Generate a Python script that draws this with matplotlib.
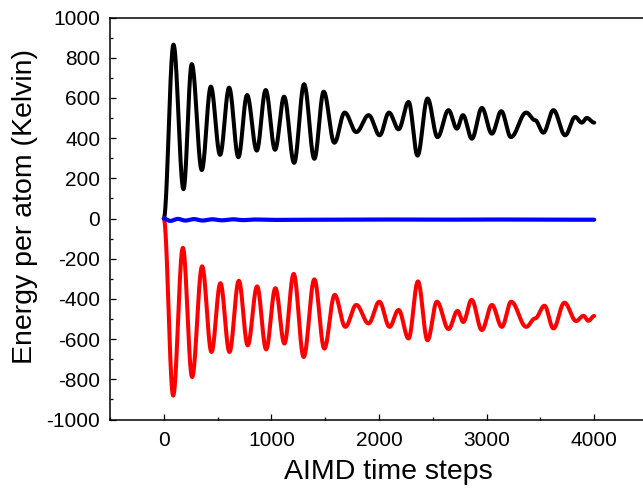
import numpy as np
import matplotlib
matplotlib.use("Agg")
import matplotlib.pyplot as plt
from matplotlib.ticker import MultipleLocator

plt.rcParams['font.family'] = ['Liberation Sans', 'DejaVu Sans']
plt.rcParams['axes.unicode_minus'] = False

# Extrema (time step, energy in K)
black_t = [0, 90, 183, 260, 353, 437, 523, 607, 693, 774, 864, 947, 1034, 1118, 1211, 1304,
           1399, 1486, 1585, 1681, 1789, 1904, 2006, 2093, 2182, 2275, 2358, 2451, 2544, 2646,
           2724, 2780, 2863, 2956, 3049, 3136, 3226, 3368, 3451, 3528, 3621, 3730, 3823, 3885,
           3931, 4000]
black_v = [0, 865, 146, 768, 241, 656, 317, 651, 305, 614, 338, 639, 342, 606, 277, 668,
           297, 631, 377, 527, 430, 514, 414, 527, 444, 580, 313, 597, 405, 539,
           447, 514, 397, 550, 422, 534, 405, 527, 489, 427, 539, 414, 505, 477,
           500, 477]

red_t = [0, 87, 177, 263, 356, 443, 526, 610, 697, 780, 867, 951, 1037, 1121, 1207, 1300,
         1399, 1492, 1588, 1687, 1789, 1903, 2003, 2098, 2182, 2275, 2362, 2451, 2538, 2646,
         2730, 2783, 2861, 2956, 3049, 3142, 3228, 3368, 3451, 3538, 3621, 3723, 3832, 3900,
         3946, 4000]
red_v = [0, -881, -146, -789, -238, -664, -322, -664, -310, -631, -338, -651, -347, -622, -276, -689,
         -303, -647, -380, -539, -430, -522, -414, -539, -455, -597, -313, -606, -414, -550,
         -460, -515, -405, -555, -430, -539, -414, -539, -497, -434, -547, -419, -510, -484,
         -509, -485]

blue_t = [0, 60, 130, 200, 280, 360, 450, 540, 640, 740, 850, 1000, 1500, 2000, 2500, 3000, 3500, 4000]
blue_v = [0, -12, -2, -10, -3, -10, -4, -9, -4, -8, -5, -7, -6, -5, -6, -5, -6, -6]


def smooth(ts, vs, n=40):
    """Draw a smooth path through successive extrema (half-cosine segments)."""
    xs, ys = [], []
    for i in range(len(ts) - 1):
        s = np.linspace(0, 1, n, endpoint=False)
        w = (1 - np.cos(np.pi * s)) / 2
        xs.append(ts[i] + (ts[i + 1] - ts[i]) * s)
        ys.append(vs[i] + (vs[i + 1] - vs[i]) * w)
    xs.append([ts[-1]])
    ys.append([vs[-1]])
    return np.concatenate(xs), np.concatenate(ys)


fig = plt.figure(figsize=(6.43, 4.92), dpi=100)
ax = fig.add_axes([110 / 643, (492 - 419.5) / 492, (648 - 110) / 643, (419.5 - 17.5) / 492])

x, y = smooth(black_t, black_v)
ax.plot(x, y, color='#000000', lw=2.9, solid_capstyle='round')
x, y = smooth(red_t, red_v)
ax.plot(x, y, color='#FF0000', lw=2.9, solid_capstyle='round')
x, y = smooth(blue_t, blue_v)
ax.plot(x, y, color='#0000FF', lw=3.0, solid_capstyle='round')

ax.set_xlim(-500, 4500)
ax.set_ylim(-1000, 1000)
ax.xaxis.set_major_locator(MultipleLocator(1000))
ax.xaxis.set_minor_locator(MultipleLocator(500))
ax.yaxis.set_major_locator(MultipleLocator(200))
ax.yaxis.set_minor_locator(MultipleLocator(100))
ax.tick_params(which='both', direction='in', width=0.9, labelsize=15)
ax.tick_params(which='major', length=4.5)
ax.tick_params(which='minor', length=2.5)
ax.tick_params(axis='y', pad=7)
ax.tick_params(axis='x', pad=8)
for sp in ax.spines.values():
    sp.set_linewidth(1.1)

fig.text(388 / 643, 1 - 472 / 492, 'AIMD time steps', fontsize=20.5, ha='center', va='center')
fig.text(25 / 643, 1 - 206 / 492, 'Energy per atom (Kelvin)', fontsize=20.5, ha='center',
         va='center', rotation=90)

fig.savefig('out.png', dpi=100)
